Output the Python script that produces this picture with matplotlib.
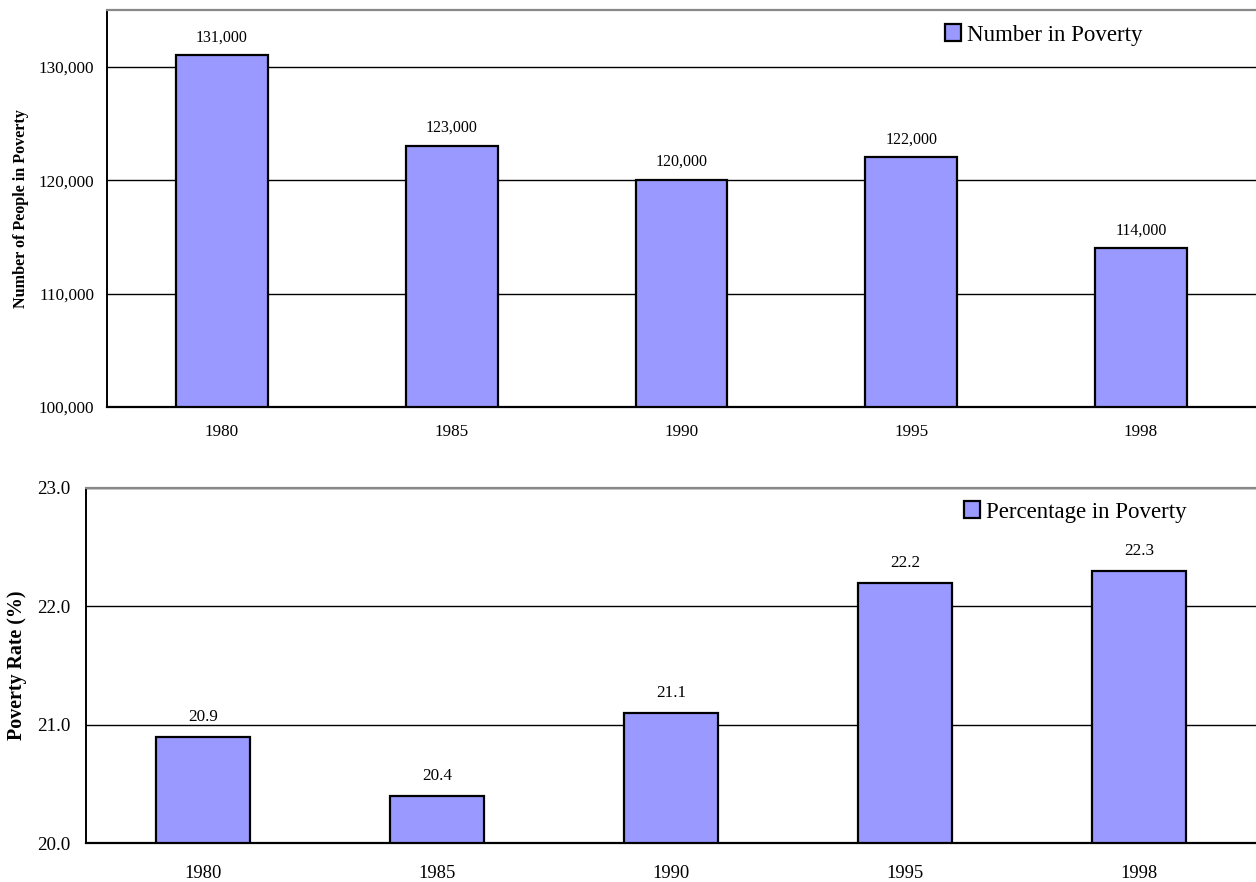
import matplotlib
matplotlib.use("Agg")
import matplotlib.pyplot as plt
from matplotlib.patches import Patch
from matplotlib.ticker import FuncFormatter

plt.rcParams['font.family'] = ['Liberation Serif', 'DejaVu Serif']

years = ["1980", "1985", "1990", "1995", "1998"]
number_in_poverty = [131000, 123000, 120000, 122000, 114000]
percent_in_poverty = [20.9, 20.4, 21.1, 22.2, 22.3]

bar_color = "#9999FF"
W, H = 1256, 882
fig = plt.figure(figsize=(W / 100, H / 100), dpi=100)


def px_axes(left, top, right, bottom):
    return fig.add_axes([left / W, 1 - bottom / H, (right - left) / W, (bottom - top) / H])


def style_axes(ax):
    ax.set_axisbelow(True)
    ax.yaxis.grid(True, color="black", linewidth=1.0)
    ax.spines['right'].set_visible(False)
    ax.spines['top'].set_color("#888888")
    ax.spines['top'].set_linewidth(1.6)
    ax.spines['left'].set_linewidth(1.4)
    ax.spines['bottom'].set_linewidth(1.6)
    ax.tick_params(axis='both', length=0)


# Top panel: number of people in poverty
ax1 = px_axes(107, 10, 1256, 407)
x = list(range(len(years)))
bars1 = ax1.bar(x, number_in_poverty, width=0.4, color=bar_color,
                edgecolor="black", linewidth=1.6, bottom=0)
ax1.set_xlim(-0.5, len(years) - 0.5)
ax1.set_ylim(100000, 135000)
ax1.set_yticks([100000, 110000, 120000, 130000])
ax1.yaxis.set_major_formatter(FuncFormatter(lambda v, p: f"{int(v):,}"))
ax1.set_xticks(x)
ax1.set_xticklabels(years, fontsize=12.3)
ax1.tick_params(axis='y', labelsize=12.3, pad=9)
ax1.tick_params(axis='x', pad=12)
style_axes(ax1)
ax1.set_ylabel("Number of People in Poverty", fontsize=11.6, fontweight='bold')
ax1.yaxis.set_label_coords(-0.068, 0.5)
for xi, v in zip(x, number_in_poverty):
    ax1.annotate(f"{v:,}", (xi, v), xytext=(0, 13), textcoords="offset points",
                 ha="center", va="center", fontsize=11.5)
ax1.legend(handles=[Patch(facecolor=bar_color, edgecolor="black", linewidth=1.6,
                          label="Number in Poverty")],
           loc="center left", bbox_to_anchor=((945 - 107) / 1149, (407 - 35) / 397),
           frameon=False, fontsize=16.5, handlelength=0.7, handleheight=0.7,
           handletextpad=0.25, borderpad=0, borderaxespad=0)

# Bottom panel: poverty rate
ax2 = px_axes(86, 488, 1256, 843)
bars2 = ax2.bar(x, percent_in_poverty, width=0.4, color=bar_color,
                edgecolor="black", linewidth=1.6)
ax2.set_xlim(-0.5, len(years) - 0.5)
ax2.set_ylim(20, 23)
ax2.set_yticks([20, 21, 22, 23])
ax2.yaxis.set_major_formatter(FuncFormatter(lambda v, p: f"{v:.1f}"))
ax2.set_xticks(x)
ax2.set_xticklabels(years, fontsize=13.4)
ax2.tick_params(axis='y', labelsize=13.7, pad=11)
ax2.tick_params(axis='x', pad=16)
style_axes(ax2)
ax2.set_ylabel("Poverty Rate (%)", fontsize=14.4, fontweight='bold')
ax2.yaxis.set_label_coords(-0.0505, 0.5)
for xi, v in zip(x, percent_in_poverty):
    ax2.annotate(f"{v:.1f}", (xi, v), xytext=(0, 14), textcoords="offset points",
                 ha="center", va="center", fontsize=12.3)
ax2.legend(handles=[Patch(facecolor=bar_color, edgecolor="black", linewidth=1.6,
                          label="Percentage in Poverty")],
           loc="center left", bbox_to_anchor=((964 - 86) / 1170, (843 - 512) / 355),
           frameon=False, fontsize=16.5, handlelength=0.7, handleheight=0.7,
           handletextpad=0.25, borderpad=0, borderaxespad=0)

fig.savefig("out.png", dpi=100)
